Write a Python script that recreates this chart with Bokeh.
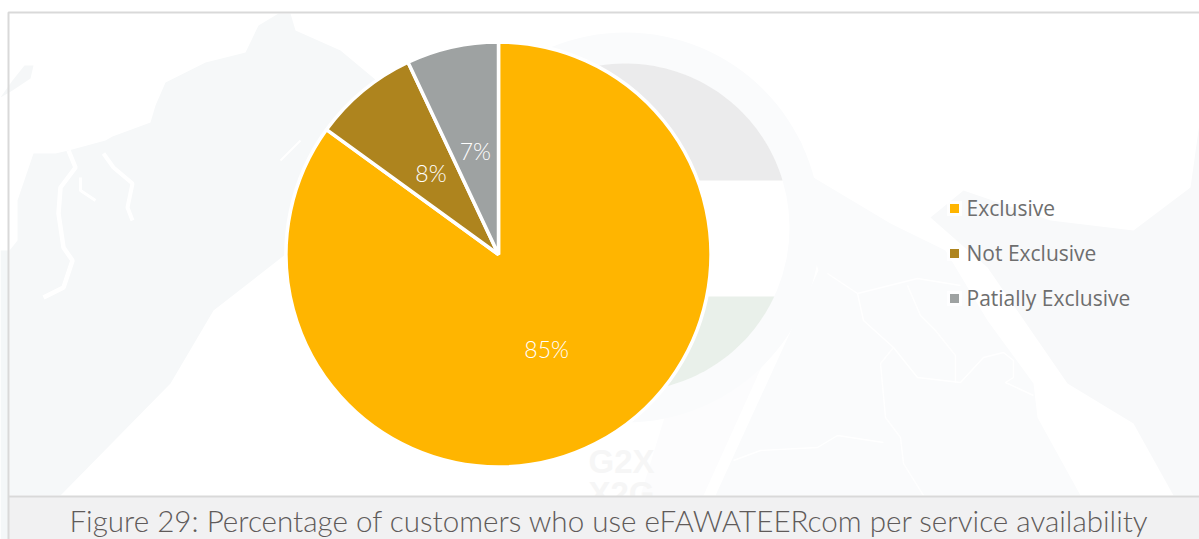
import numpy as np
from bokeh.plotting import figure
from bokeh.models import Range1d, ColumnDataSource
from bokeh.core.properties import value
from bokeh.embed import file_html
from bokeh.resources import INLINE

categories = ["Exclusive", "Not Exclusive", "Patially Exclusive"]
shares = [85, 8, 7]
colors = ["#FFB500", "#AE841E", "#9EA2A2"]
caption = "Figure 29: Percentage of customers who use eFAWATEERcom per service availability"

H = 539
def Y(seq):
    return [H - v for v in seq]

p = figure(width=1199, height=539, output_backend="svg", toolbar_location=None,
           x_range=Range1d(0, 1199), y_range=Range1d(0, 539), min_border=0,
           background_fill_color="#ffffff", border_fill_color="#ffffff", outline_line_color=None)
p.axis.visible = False
p.xgrid.visible = False
p.ygrid.visible = False

# faint map background
left_land = [(9,250),(17,240),(17,200),(33,153),(55,153),(68,150),(105,140),(112,136),(150,122),(155,105),(165,82),(205,62),
             (245,52),(258,25),(278,13),(290,13),(295,30),(340,50),(400,100),(400,200),(290,250),(213,310),(170,383),(60,495),(9,495)]
p.patch([a for a, b in left_land], Y([b for a, b in left_land]), color="#f6f8f9", line_color=None)
edge_strip = [(0,250),(8,250),(8,539),(0,539)]
p.patch([a for a, b in edge_strip], Y([b for a, b in edge_strip]), color="#f4f7f8", line_color=None)
blob = [(0,97),(12,80),(24,65),(33,65),(30,78),(12,90)]
p.patch([a for a, b in blob], Y([b for a, b in blob]), color="#f5f7f8", line_color=None)
faint = [(640,495),(703,495),(800,280),(800,200),(700,300)]
p.patch([a for a, b in faint], Y([b for a, b in faint]), color="#fcfcfd", line_color=None)
mid_land = [(800,140),(813,177),(890,223),(945,250),(987,320),(1033,383),(1037,417),(1080,495),(715,495),(818,270),(790,180)]
p.patch([a for a, b in mid_land], Y([b for a, b in mid_land]), color="#fafbfc", line_color=None)
right_land = [(930,217),(963,190),(1050,220),(1133,230),(1190,187),(1199,123),(1199,495),(1173,495),(1133,423),(1067,383),(987,267)]
p.patch([a for a, b in right_land], Y([b for a, b in right_land]), color="#f8f9fa", line_color=None)

rivers = [
    ([(827,273),(857,293),(917,278),(960,285)], 1.4),
    ([(857,293),(863,320),(893,347),(917,377),(960,382),(983,357),(1003,352),(1013,360),(1013,377),(1005,382),(1033,395)], 1.4),
    ([(893,347),(880,363),(885,417),(900,437),(903,463),(923,495)], 1.4),
    ([(883,442),(837,435),(817,447),(760,450),(733,460)], 1.4),
    ([(907,285),(920,315),(935,330),(955,355),(955,382)], 1.4),
    ([(68,150),(75,167),(60,187),(58,213),(63,247),(72,260),(63,287),(43,297)], 4.5),
    ([(103,153),(113,167),(132,183),(127,207),(132,220)], 4),
    ([(80,177),(80,190),(95,200)], 3),
    ([(280,160),(300,140)], 2),
]
for r, w in rivers:
    p.line([a for a, b in r], Y([b for a, b in r]), line_color="#ffffff", line_width=w)

# faint emblem behind the pie
cx, cy, R = 625, 227, 164
p.circle([cx], Y([cy]), radius=195, fill_color="#fafbfc", line_color=None)
p.circle([cx], Y([cy]), radius=R, fill_color="#ffffff", line_color=None)
def cap(y_cut, top):
    a0 = np.arcsin((y_cut - cy) / R)
    t = np.linspace(a0, -np.pi - a0, 80) if top else np.linspace(a0, np.pi - a0, 80)
    return cx + R * np.cos(t), H - (cy + R * np.sin(t))
xs, ys = cap(180, True)
p.patch(xs, ys, color="#ebebec", line_color=None)
xs, ys = cap(296, False)
p.patch(xs, ys, color="#e9f0ea", line_color=None)

# G2X watermark
p.text([621, 621], Y([461, 493]), text=["G2X", "X2G"], text_font=value("Liberation Sans"),
       text_font_style="bold", text_font_size="33px", text_color="#f6f6f6",
       text_align="center", text_baseline="middle")

# frame and caption bar
p.quad(left=[8], right=[1199], top=Y([496]), bottom=[0], fill_color="#f1f1f2", line_color=None)
p.line([1199, 8, 8], Y([12, 12, 539]), line_color="#d9d9d9", line_width=2)
p.line([8, 1199], Y([496, 496]), line_color="#d9d9d9", line_width=2)

# pie
total = sum(shares)
fractions = np.array(shares) / total
edges = np.concatenate([[0], np.cumsum(fractions)])
starts = np.pi / 2 - edges[:-1] * 2 * np.pi
ends = np.pi / 2 - edges[1:] * 2 * np.pi
pcx, pcy, pr = 498, 254, 212.5
src = ColumnDataSource(dict(x=[pcx]*3, y=Y([pcy]*3), s=starts, e=ends, c=colors))
p.wedge(x="x", y="y", radius=pr, start_angle="s", end_angle="e", direction="clock",
        fill_color="c", line_color="#ffffff", line_width=3.5, source=src)

# percentage labels
mids = (starts + ends) / 2
label_r = 106
lx = [pcx + label_r * np.cos(m) for m in mids]
ly = [H - pcy + label_r * np.sin(m) for m in mids]
p.text(lx, ly, text=[f"{v}%" for v in shares], text_font=value("Lato Light"), text_font_size="23px",
       text_color="#ffffff", text_align="center", text_baseline="middle")

# legend
leg_y = [208, 253, 298]
p.scatter([954]*3, Y(leg_y), marker="square", size=15, fill_color="#ffffff", line_color=None, fill_alpha=0.8)
p.scatter([954]*3, Y(leg_y), marker="square", size=9, fill_color=colors, line_color=None)
p.text([966]*3, Y([v - 1 for v in leg_y]), text=categories, text_font=value("Open Sans"), text_font_size="21px",
       text_color="#6e6e6e", text_align="left", text_baseline="middle")

# caption
p.text([609], Y([520]), text=[caption], text_font=value("Lato Light"), text_font_size="29.6px",
       text_color="#5f5b5a", text_align="center", text_baseline="middle")

open("out.html", "w").write(file_html(p, INLINE))
